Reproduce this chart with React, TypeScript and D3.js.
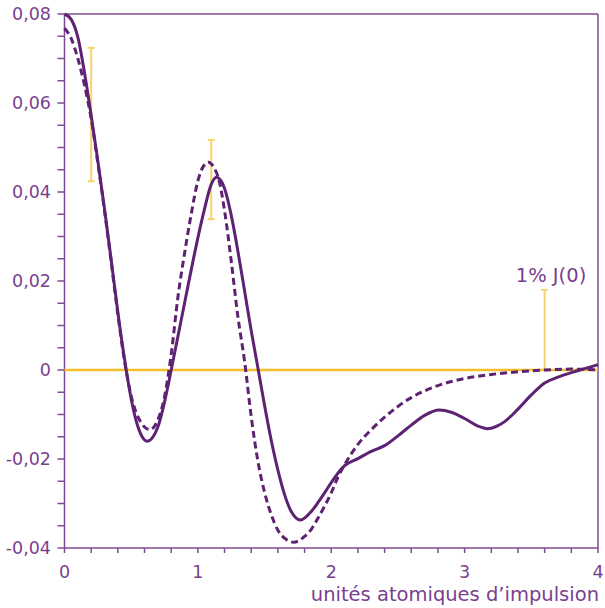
import React from "react";
import * as d3 from "d3";

const solidX = [0, 0.05, 0.1, 0.15, 0.2, 0.25, 0.3, 0.35, 0.4, 0.45, 0.5, 0.55, 0.62, 0.7, 0.75, 0.8, 0.85, 0.9, 0.95, 1.0, 1.05, 1.1, 1.14, 1.2, 1.25, 1.3, 1.35, 1.4, 1.45, 1.5, 1.55, 1.6, 1.65, 1.7, 1.77, 1.85, 1.9, 1.95, 2.0, 2.05, 2.1, 2.2, 2.3, 2.4, 2.5, 2.6, 2.7, 2.81, 2.9, 3.0, 3.1, 3.17, 3.25, 3.3, 3.4, 3.5, 3.6, 3.7, 3.8, 3.9, 4.0];
const solidY = [0.0800, 0.0788, 0.0748, 0.0668, 0.0572, 0.0470, 0.0362, 0.0248, 0.0130, 0.0025, -0.0065, -0.0127, -0.0160, -0.0128, -0.0072, 0.0000, 0.0075, 0.0150, 0.0225, 0.0297, 0.0362, 0.0417, 0.0433, 0.0408, 0.0348, 0.0267, 0.0178, 0.0088, 0.0005, -0.0080, -0.0158, -0.0225, -0.0280, -0.0318, -0.0337, -0.0318, -0.0298, -0.0276, -0.0253, -0.0232, -0.0215, -0.0199, -0.0183, -0.0170, -0.0148, -0.0124, -0.0102, -0.0090, -0.0095, -0.0109, -0.0126, -0.0132, -0.0125, -0.0116, -0.0088, -0.0056, -0.0029, -0.0016, -0.0006, 0.0003, 0.0012];

const dashedX = [0, 0.05, 0.1, 0.15, 0.2, 0.25, 0.3, 0.35, 0.4, 0.45, 0.5, 0.55, 0.64, 0.7, 0.75, 0.8, 0.85, 0.9, 0.95, 1.0, 1.04, 1.08, 1.12, 1.16, 1.2, 1.25, 1.3, 1.35, 1.4, 1.45, 1.5, 1.55, 1.6, 1.65, 1.72, 1.8, 1.85, 1.9, 1.95, 2.0, 2.05, 2.1, 2.2, 2.3, 2.4, 2.5, 2.6, 2.7, 2.8, 2.9, 3.0, 3.2, 3.4, 3.6, 3.8, 4.0];
const dashedY = [0.0768, 0.0745, 0.0700, 0.0640, 0.0565, 0.0465, 0.0358, 0.0243, 0.0125, 0.0020, -0.0058, -0.0105, -0.0134, -0.0112, -0.0060, 0.0035, 0.0163, 0.0262, 0.0350, 0.0425, 0.0457, 0.0467, 0.0455, 0.0425, 0.0358, 0.0245, 0.0120, 0.0020, -0.0105, -0.0205, -0.0275, -0.0325, -0.0360, -0.0378, -0.0387, -0.0374, -0.0358, -0.0333, -0.0306, -0.0276, -0.0241, -0.0213, -0.0167, -0.0134, -0.0106, -0.0082, -0.0062, -0.0047, -0.0035, -0.0026, -0.0019, -0.0010, -0.0004, 0.0000, 0.0002, 0.0000];

const errX = [0.2, 1.1, 3.6];
const errLow = [0.0424, 0.0339, 0.0];
const errHigh = [0.0724, 0.0517, 0.018];

const xTickLabels = ["0", "1", "2", "3", "4"];
const yTickLabels = ["-0,04", "-0,02", "0", "0,02", "0,04", "0,06", "0,08"];
const yTickValues = [-0.04, -0.02, 0, 0.02, 0.04, 0.06, 0.08];

const xTitle = "unités atomiques d\u2019impulsion";
const annotation = "1% J(0)";

const PURPLE = "#5e2272";
const AXIS = "#7d4a93";
const TEXT = "#7a3f8f";
const YELLOW = "#f5bf2c";
const ERR = "#f7d36a";
const FONT = "'DejaVu Sans', sans-serif";

export default function App() {
  const W = 605, H = 608;
  const x = d3.scaleLinear().domain([0, 4]).range([64.5, 598]);
  const y = d3.scaleLinear().domain([-0.04, 0.08]).range([548, 14]);

  const makeLine = (xsArr: number[]) =>
    d3
      .line<number>()
      .x((_, i) => x(xsArr[i]))
      .y((d) => y(d))
      .curve(d3.curveMonotoneX);

  const xMinor = d3.range(0, 4.0001, 0.2);
  const yMinor = d3.range(-0.04, 0.08001, 0.005);

  return (
    <svg width={W} height={H} style={{ position: "absolute", left: 0, top: 0, background: "#fff" }}>
      {/* frame */}
      <line x1={x(0)} x2={x(4)} y1={y(0.08)} y2={y(0.08)} stroke={AXIS} strokeWidth={1.5} />
      <line x1={x(4)} x2={x(4)} y1={y(0.08)} y2={y(-0.04)} stroke={AXIS} strokeWidth={1.5} />
      <line x1={x(0)} x2={x(4)} y1={y(-0.04)} y2={y(-0.04)} stroke={AXIS} strokeWidth={1.5} />
      <line x1={x(0)} x2={x(0)} y1={y(0.08)} y2={y(-0.04)} stroke={AXIS} strokeWidth={1.5} />
      {/* minor ticks */}
      {xMinor.map((t, i) => (
        <line key={"xt" + i} x1={x(t)} x2={x(t)} y1={y(-0.04)} y2={y(-0.04) + 5} stroke={AXIS} strokeWidth={1.5} />
      ))}
      {yMinor.map((t, i) => (
        <line key={"yt" + i} x1={x(0) - 7} x2={x(0)} y1={y(t)} y2={y(t)} stroke={AXIS} strokeWidth={1.5} />
      ))}
      {/* tick labels */}
      {xTickLabels.map((l, i) => (
        <text key={"xl" + i} x={x(i)} y={578} textAnchor="middle" fontFamily={FONT} fontSize={17.5} fill={TEXT}>
          {l}
        </text>
      ))}
      {yTickLabels.map((l, i) => (
        <text key={"yl" + i} x={51} y={y(yTickValues[i])} dy="0.36em" textAnchor="end" fontFamily={FONT} fontSize={17.5} fill={TEXT}>
          {l}
        </text>
      ))}
      <text x={599} y={601} textAnchor="end" fontFamily={FONT} fontSize={19.5} fill={TEXT}>
        {xTitle}
      </text>
      {/* zero line */}
      <line x1={x(0)} x2={x(4)} y1={y(0)} y2={y(0)} stroke={YELLOW} strokeWidth={2.5} />
      {/* error bars */}
      {errX.map((e, i) => (
        <g key={"e" + i} stroke={ERR} strokeWidth={2}>
          <line x1={x(e)} x2={x(e)} y1={y(errLow[i])} y2={y(errHigh[i])} />
          <line x1={x(e) - 3.5} x2={x(e) + 3.5} y1={y(errHigh[i])} y2={y(errHigh[i])} />
          {errLow[i] !== 0 && <line x1={x(e) - 3.5} x2={x(e) + 3.5} y1={y(errLow[i])} y2={y(errLow[i])} />}
        </g>
      ))}
      <text x={551} y={282} textAnchor="middle" fontFamily={FONT} fontSize={19.5} fill={TEXT}>
        {annotation}
      </text>
      {/* curves */}
      <path d={makeLine(dashedX)(dashedY) || ""} fill="none" stroke={PURPLE} strokeWidth={3} strokeDasharray="7 4" />
      <path d={makeLine(solidX)(solidY) || ""} fill="none" stroke={PURPLE} strokeWidth={3} />
    </svg>
  );
}
